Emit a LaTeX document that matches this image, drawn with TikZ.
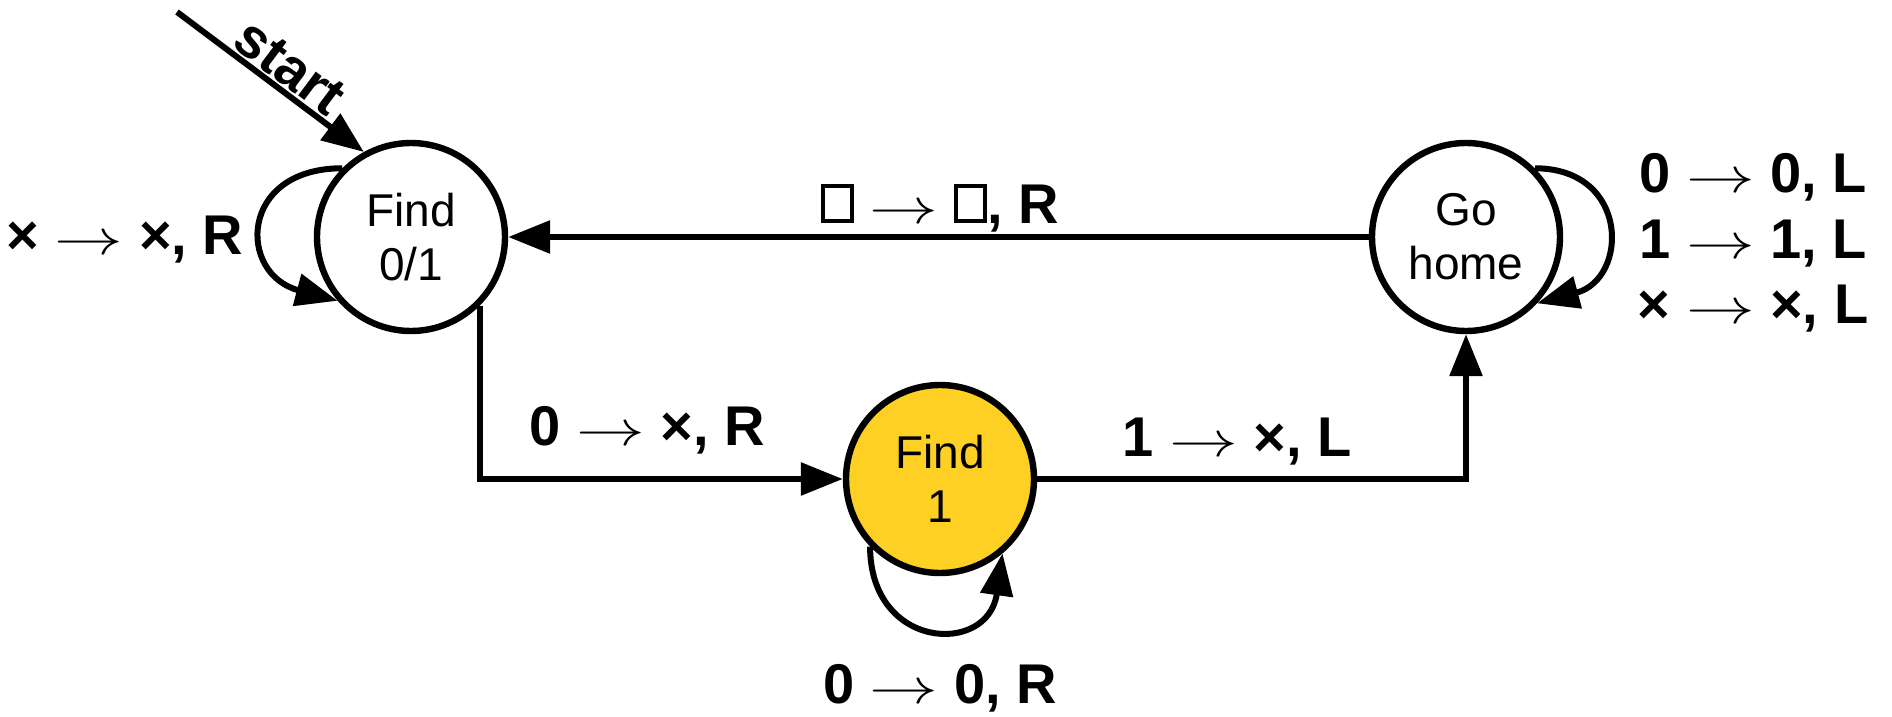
\documentclass[tikz,border=0pt]{standalone}
\usepackage{fontspec}
\usepackage{graphicx}
\setmainfont{Liberation Sans}
\usetikzlibrary{arrows.meta,positioning}
\definecolor{findyellow}{RGB}{253,208,35}
\newcommand{\tapeblank}{\raisebox{2pt}{\setlength{\fboxsep}{0pt}\setlength{\fboxrule}{2pt}\fbox{\rule{0pt}{15.5pt}\hspace{12.5pt}}}}
\newcommand{\tto}{\scalebox{1.38}[1]{$\rightarrow$}}
\tikzset{
  state/.style={
    circle,
    draw=black,
    line width=3.2pt,
    fill=white,
    minimum size=94pt,
    inner sep=0pt,
    align=center,
    font=\fontsize{23}{27}\selectfont
  },
  trans/.style={
    black,
    line width=3pt,
    -{Triangle[length=21pt,width=16pt]}
  },
  lbl/.style={
    font=\fontsize{28}{32.75}\selectfont\bfseries,
    inner sep=0pt,
    anchor=base
  }
}

\begin{document}
\begin{tikzpicture}[x=0.5pt,y=-0.5pt]
    \useasboundingbox (0,0) rectangle (1892,717);

    % 状態
    \node[state] (find01) at (411,237) {Find\\0/1};
    \node[state,fill=findyellow] (find1) at (940,479) {Find\\1};
    \node[state] (gohome) at (1466,237) {Go\\home};

    % 開始
    \coordinate (start) at (177,12);
    \draw[trans] (start) -- node[lbl,anchor=south,sloped,pos=0.53,yshift=1pt] (startlbl) {start} (find01.119);

    % 遷移
    \draw[trans] (find01.-45) |- (find1.west);
    \draw[trans] (find1.east) -| (gohome.south);
    \draw[trans] (gohome.west) -- (find01.east);

    % ループ
    \draw[trans] (find01.135) to[out=180,in=165,looseness=2.0] (find01.221);
    \draw[trans] (gohome.45) to[out=0,in=15,looseness=1.8] (gohome.317);
    \draw[trans] (find1.224) to[out=270,in=262,looseness=2.0] (find1.310);

    % ラベル
    \node[lbl] (lblxx) at (125,255) {× \tto{} ×, R};
    \node[lbl] (lblblank) at (940,223) {\tapeblank{} \tto{} \tapeblank, R};
    \node[lbl] (lblzerox) at (647,445) {0 \tto{} ×, R};
    \node[lbl] (lbloney) at (1237,456) {1 \tto{} ×, L};
    \node[lbl] (lblzero) at (940,703) {0 \tto{} 0, R};
    \node[lbl,anchor=north,align=center] (lblhome) at (1753,153)
        {0 \tto{} 0, L\\1 \tto{} 1, L\\× \tto{} ×, L};
\end{tikzpicture}
\end{document}
